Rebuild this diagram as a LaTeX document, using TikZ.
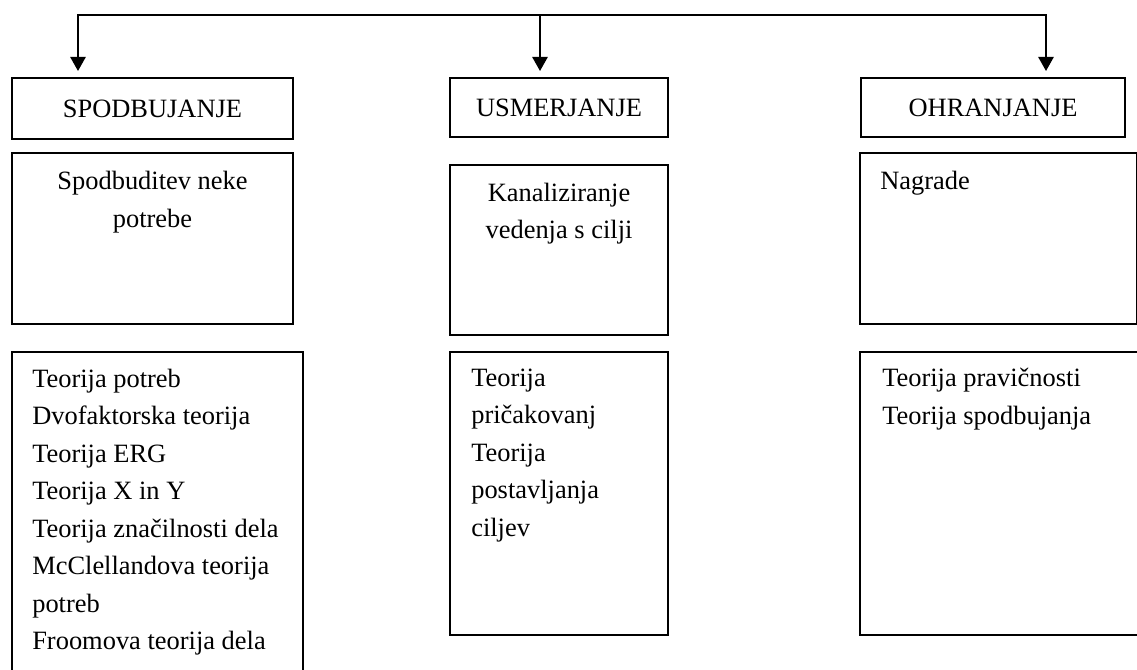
\documentclass[tikz,border=0pt]{standalone}
\usepackage{fontspec}
\setmainfont{Liberation Serif}
\usetikzlibrary{positioning,arrows.meta}

\begin{document}
\begin{tikzpicture}[
    x=0.025cm, y=-0.025cm,
    every node/.style={font=\fontsize{18.8pt}{26.7pt}\selectfont},
    box/.style={draw, line width=1.4pt, anchor=north west, inner sep=0pt},
    txt/.style={inner sep=0pt, align=left},
    edge/.style={line width=1.4pt, >={Triangle[length=0.35cm, width=0.38cm]}}
]
    \useasboundingbox (0,0) rectangle (1137,670);
    \clip (0,0) rectangle (1137,670);

    % Headers
    \node[box, minimum width=7.025cm, minimum height=1.525cm] (spod) at (11,77) {SPODBUJANJE};
    \node[box, minimum width=5.45cm, minimum height=1.475cm] (usm) at (449,77) {USMERJANJE};
    \node[box, minimum width=6.6cm, minimum height=1.475cm] (ohr) at (860,77) {OHRANJANJE};

    % Description boxes
    \node[box, minimum width=7.025cm, minimum height=4.275cm] (spodOpis) at (11,152) {};
    \node[box, minimum width=5.45cm, minimum height=4.25cm] (usmOpis) at (449,164) {};
    \node[box, minimum width=6.925cm, minimum height=4.275cm] (ohrOpis) at (859,152) {};

    \node[txt, align=center, below=0.475cm of spodOpis.north] (spodOpisT) {Spodbuditev neke\\potrebe};
    \node[txt, align=center, below=0.4625cm of usmOpis.north] (usmOpisT) {Kanaliziranje\\vedenja s cilji};
    \node[txt, below right=0.475cm and 0.525cm of ohrOpis.north west] (ohrOpisT) {Nagrade};

    % Theory boxes
    \node[box, minimum width=7.275cm, minimum height=8.5cm] (spodTeor) at (11,351) {};
    \node[box, minimum width=5.45cm, minimum height=7.075cm] (usmTeor) at (449,351) {};
    \node[box, minimum width=7.25cm, minimum height=7.075cm] (ohrTeor) at (859,351) {};

    \node[txt, below right=0.4375cm and 0.525cm of spodTeor.north west] (spodTeorT)
        {Teorija potreb\\Dvofaktorska teorija\\Teorija ERG\\Teorija X in Y\\Teorija značilnosti dela\\McClellandova teorija\\potreb\\Froomova teorija dela};
    \node[txt, below right=0.4375cm and 0.55cm of usmTeor.north west] (usmTeorT)
        {Teorija\\pričakovanj\\Teorija\\postavljanja\\ciljev};
    \node[txt, below right=0.425cm and 0.575cm of ohrTeor.north west] (ohrTeorT)
        {Teorija pravičnosti\\Teorija spodbujanja};

    % Connections
    \coordinate (bus1) at (78,15);
    \coordinate (bus2) at (540,15);
    \coordinate (bus3) at (1046,15);
    \draw[edge, <->, shorten <=0.15cm, shorten >=0.15cm]
        (bus1 |- spod.north) -- (bus1) -- (bus3) -- (bus3 |- ohr.north);
    \draw[edge, ->, shorten >=0.15cm] (bus2) -- (bus2 |- usm.north);

\end{tikzpicture}
\end{document}
